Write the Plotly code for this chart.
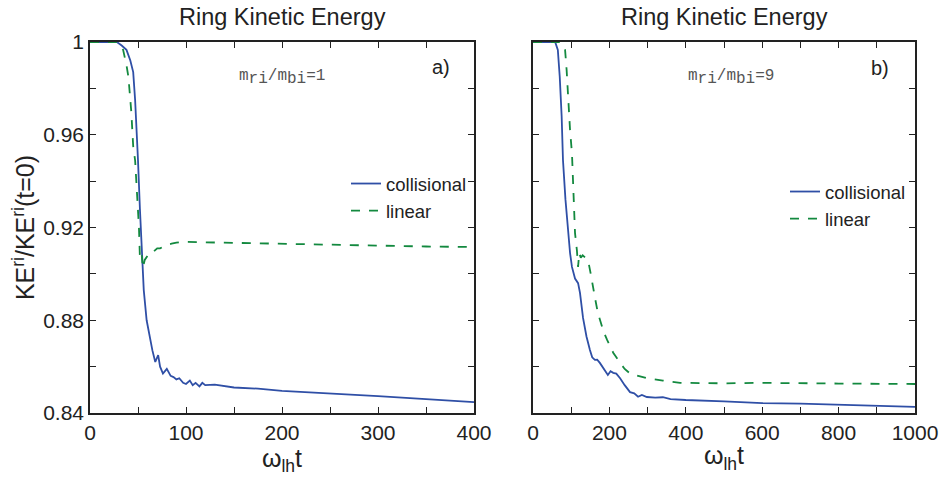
import plotly.graph_objects as go

# ---- data ----
left_col_t = [0, 28, 33, 38, 42, 45, 47, 49, 50, 52, 54, 56, 59, 62.5, 65, 68, 71, 73, 76, 80, 84, 87, 90, 93, 97, 100, 104, 107, 110, 114, 117, 120, 130, 150, 175, 200, 250, 300, 350, 400]
left_col_v = [1, 1, 0.9985, 0.9966, 0.992, 0.987, 0.975, 0.961, 0.949, 0.928, 0.907, 0.893, 0.880, 0.8715, 0.867, 0.862, 0.865, 0.860, 0.857, 0.859, 0.856, 0.8555, 0.8545, 0.855, 0.853, 0.8525, 0.854, 0.852, 0.853, 0.8515, 0.853, 0.852, 0.8522, 0.851, 0.8505, 0.8495, 0.8485, 0.8473, 0.846, 0.8447]

left_lin_t = [0, 28, 31, 34.5, 38, 40, 43, 45, 47, 49, 51, 52, 53, 54, 55, 57, 60, 62.5, 66, 70, 73, 77, 80, 85, 90, 97, 110, 130, 150, 200, 250, 300, 350, 400]
left_lin_v = [1, 1, 0.999, 0.9966, 0.99, 0.985, 0.97, 0.955, 0.949, 0.935, 0.92, 0.907, 0.906, 0.908, 0.9025, 0.906, 0.908, 0.9094, 0.9095, 0.911, 0.911, 0.912, 0.9125, 0.913, 0.9135, 0.9138, 0.9137, 0.9135, 0.9134, 0.9129, 0.9125, 0.912, 0.9118, 0.9116]

right_col_t = [0, 58, 65, 70, 75, 78.5, 85, 92, 97, 102, 110, 118, 123, 131, 140, 149, 155, 162, 168, 175, 185, 196, 203, 210, 218, 228, 240, 254, 265, 275, 285, 298, 320, 340, 360, 400, 500, 600, 700, 800, 900, 1000]
right_col_v = [1, 1, 0.9966, 0.985, 0.968, 0.949, 0.932, 0.9176, 0.909, 0.903, 0.898, 0.896, 0.8918, 0.881, 0.873, 0.8672, 0.864, 0.8629, 0.863, 0.8616, 0.859, 0.8564, 0.858, 0.8573, 0.857, 0.855, 0.852, 0.849, 0.8485, 0.847, 0.8478, 0.8469, 0.8466, 0.8468, 0.846, 0.8456, 0.845, 0.8443, 0.844, 0.8435, 0.8432, 0.8426]

right_lin_t = [0, 70, 78, 84, 88, 92, 97, 102, 105, 110, 115, 118, 121, 125, 130, 136, 144, 150, 157, 163, 170, 175, 185, 194, 210, 228, 240, 254, 275, 298, 340, 385, 500, 600, 800, 1000]
right_lin_v = [1, 1, 0.999, 0.9966, 0.988, 0.975, 0.962, 0.952, 0.9405, 0.9176, 0.910, 0.903, 0.909, 0.907, 0.908, 0.907, 0.906, 0.901, 0.894, 0.889, 0.883, 0.880, 0.875, 0.8715, 0.866, 0.8616, 0.859, 0.857, 0.856, 0.855, 0.854, 0.853, 0.8528, 0.853, 0.8527, 0.8525]

y_ticks = [0.84, 0.86, 0.88, 0.90, 0.92, 0.94, 0.96, 0.98, 1.0]
y_labels = ["0.84", "", "0.88", "", "0.92", "", "0.96", "", "1"]
xl_ticks = [0, 50, 100, 150, 200, 250, 300, 350, 400]
xl_labels = ["0", "", "100", "", "200", "", "300", "", "400"]
xr_ticks = [0, 100, 200, 300, 400, 500, 600, 700, 800, 900, 1000]
xr_labels = ["0", "", "200", "", "400", "", "600", "", "800", "", "1000"]

BLUE = "#2f4fa6"
GREEN = "#13893f"
AX = "#222222"
FONT = "Liberation Sans"

fig = go.Figure()
fig.add_trace(go.Scatter(x=left_col_t, y=left_col_v, mode="lines", name="collisional",
                         line=dict(color=BLUE, width=1.8), xaxis="x", yaxis="y", legend="legend"))
fig.add_trace(go.Scatter(x=left_lin_t, y=left_lin_v, mode="lines", name="linear",
                         line=dict(color=GREEN, width=1.8, dash="dash"), xaxis="x", yaxis="y", legend="legend"))
fig.add_trace(go.Scatter(x=right_col_t, y=right_col_v, mode="lines", name="collisional",
                         line=dict(color=BLUE, width=1.8), xaxis="x2", yaxis="y2", legend="legend2"))
fig.add_trace(go.Scatter(x=right_lin_t, y=right_lin_v, mode="lines", name="linear",
                         line=dict(color=GREEN, width=1.8, dash="dash"), xaxis="x2", yaxis="y2", legend="legend2"))

axcommon = dict(showline=True, linecolor=AX, linewidth=1.5, mirror="ticks", ticks="inside",
                ticklen=6, tickcolor=AX, tickwidth=1, showgrid=False, zeroline=False,
                automargin=False, tickfont=dict(family=FONT, size=21, color="#222"))

xtitle = dict(text="ω<sub>lh</sub>t", font=dict(family=FONT, size=25, color="#222"), standoff=4)
yd = [1 - 413 / 480, 1 - 42 / 480]
fig.update_layout(
    width=940, height=480, margin=dict(l=0, r=0, t=0, b=0, autoexpand=False),
    paper_bgcolor="white", plot_bgcolor="white", showlegend=True,
    xaxis=dict(domain=[90 / 940, 474 / 940], range=[0, 400], tickvals=xl_ticks, ticktext=xl_labels,
               title=xtitle, anchor="y", **axcommon),
    yaxis=dict(domain=yd, range=[0.84, 1.0], tickvals=y_ticks, ticktext=y_labels,
               title=dict(text="KE<sup>ri</sup>/KE<sup>ri</sup>(t=0)", font=dict(family=FONT, size=25, color="#222"), standoff=1),
               anchor="x", **axcommon),
    xaxis2=dict(domain=[533 / 940, 915 / 940], range=[0, 1000], tickvals=xr_ticks, ticktext=xr_labels,
                title=xtitle, anchor="y2", **axcommon),
    yaxis2=dict(domain=yd, range=[0.84, 1.0], tickvals=y_ticks, ticktext=[""] * len(y_ticks),
                anchor="x2", **axcommon),
    legend=dict(x=346 / 940, y=1 - 165 / 480, xanchor="left", yanchor="top", bgcolor="rgba(0,0,0,0)",
                font=dict(family=FONT, size=18.5, color="#222"), tracegroupgap=0),
    legend2=dict(x=785 / 940, y=1 - 173 / 480, xanchor="left", yanchor="top", bgcolor="rgba(0,0,0,0)",
                 font=dict(family=FONT, size=18.5, color="#222"), tracegroupgap=0),
)

ann_font = dict(family=FONT, size=23.5, color="#222")
lab_font = dict(family=FONT, size=20, color="#222")
mono = dict(family="Liberation Mono", size=16, color="#555")
sub = "<sub><span style='font-size:16px'>{}</span></sub>"
for xc, txt, yc, f in [(282, "Ring Kinetic Energy", 17, ann_font),
                       (724, "Ring Kinetic Energy", 17, ann_font),
                       (282, "m" + sub.format("ri") + "/m" + sub.format("bi") + "=1", 78, mono),
                       (731, "m" + sub.format("ri") + "/m" + sub.format("bi") + "=9", 78, mono),
                       (441, "a)", 67, lab_font),
                       (880, "b)", 68, lab_font)]:
    fig.add_annotation(x=xc / 940, y=1 - yc / 480, xref="paper", yref="paper", text=txt,
                       xanchor="center", yanchor="middle", showarrow=False, font=f)

fig.write_html("out.html", config={"displayModeBar": False},
               post_script="document.body.style.margin='0';")
